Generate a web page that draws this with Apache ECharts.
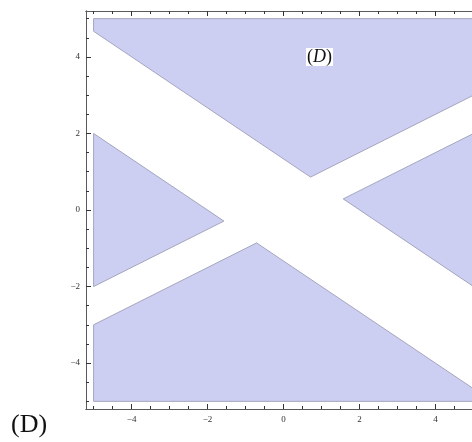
<!DOCTYPE html>
<html>
<head>
<meta charset="utf-8">
<script src="https://cdn.jsdelivr.net/npm/echarts@6/dist/echarts.min.js"></script>
<style>
  html, body { margin: 0; padding: 0; background: #ffffff; }
  #chart { width: 472px; height: 442px; }
</style>
</head>
<body>
<div id="chart"></div>
<script>
// Pieces of the square [-5,5]^2 left after cutting out the strips |3y+2x|<4 and |2y-x|<1
const topPieceX = [-5, -5, 0.71, 5, 5];
const topPieceY = [5, 4.67, 0.86, 3, 5];
const leftPieceX = [-5, -1.57, -5];
const leftPieceY = [2, -0.29, -2];
const rightPieceX = [1.57, 5, 5];
const rightPieceY = [0.29, 2, -2];
const bottomPieceX = [-5, -5, -0.71, 5, 5];
const bottomPieceY = [-5, -3, -0.86, -4.67, -5];

// Frame ticks
const majorTicks = [-4, -2, 0, 2, 4];
const minorTicks = [-5, -4.5, -3.5, -3, -2.5, -1.5, -1, -0.5, 0.5, 1, 1.5, 2.5, 3, 3.5, 4.5, 5];
const yMin = -5.2;
const yMax = 5.2;
// the frame runs past the right edge of the page, so the x range stops a little short of 5.2
const xMin = -5.2;
const xMax = 4.96;

const pieces = [
  [topPieceX, topPieceY],
  [leftPieceX, leftPieceY],
  [rightPieceX, rightPieceY],
  [bottomPieceX, bottomPieceY]
];

const frameColor = '#5a5a5a';
const labelFont = { fontFamily: 'Liberation Serif', fontSize: 9, color: '#333333' };
const fmt = v => String(v).replace('-', '\u2212');

function frameAxis(position, min, max, ticks, len, labels) {
  return {
    type: 'value',
    position: position,
    min: min,
    max: max,
    axisLine: { show: true, onZero: false, lineStyle: { color: frameColor, width: 1 } },
    axisTick: { show: true, inside: true, length: len, customValues: ticks,
                lineStyle: { color: '#333333', width: 1 } },
    axisLabel: labels
      ? Object.assign({ show: true, customValues: ticks, formatter: fmt, margin: 6 }, labelFont)
      : { show: false },
    splitLine: { show: false }
  };
}

const chart = echarts.init(document.getElementById('chart'), null, { renderer: 'canvas' });
chart.setOption({
  animation: false,
  backgroundColor: '#ffffff',
  grid: { left: 86, top: 11, right: 0, height: 398, containLabel: false },
  xAxis: [
    frameAxis('bottom', xMin, xMax, majorTicks, 5, true),
    frameAxis('bottom', xMin, xMax, minorTicks, 3, false),
    frameAxis('top', xMin, xMax, majorTicks, 5, false),
    frameAxis('top', xMin, xMax, minorTicks, 3, false)
  ],
  yAxis: [
    frameAxis('left', yMin, yMax, majorTicks, 5, true),
    frameAxis('left', yMin, yMax, minorTicks, 3, false)
  ],
  series: [{
    type: 'custom',
    coordinateSystem: 'cartesian2d',
    xAxisIndex: 0,
    yAxisIndex: 0,
    clip: true,
    data: pieces.map(p => [p[0][0], p[1][0]]),
    renderItem: function (params, api) {
      const xs = pieces[params.dataIndex][0];
      const ys = pieces[params.dataIndex][1];
      const points = xs.map((x, k) => api.coord([x, ys[k]]));
      return {
        type: 'polygon',
        shape: { points: points },
        style: { fill: '#cdcff2', stroke: '#a4a5bf', lineWidth: 1 }
      };
    }
  }],
  graphic: [
    {
      type: 'text',
      left: 306,
      top: 48,
      z: 10,
      style: {
        rich: {
          p: { fontFamily: 'Liberation Serif', fontSize: 18, fill: '#111111' },
          d: { fontFamily: 'Liberation Serif', fontSize: 18, fontStyle: 'italic', fill: '#111111' }
        },
        text: '{p|(}{d|D}{p|)}',
        backgroundColor: '#ffffff',
        padding: [0, 1, 0, 1]
      }
    },
    {
      type: 'text',
      left: 11,
      top: 412,
      style: {
        text: '(D)',
        fontFamily: 'Liberation Serif',
        fontSize: 26,
        fill: '#111111'
      }
    }
  ]
});
</script>
</body>
</html>
